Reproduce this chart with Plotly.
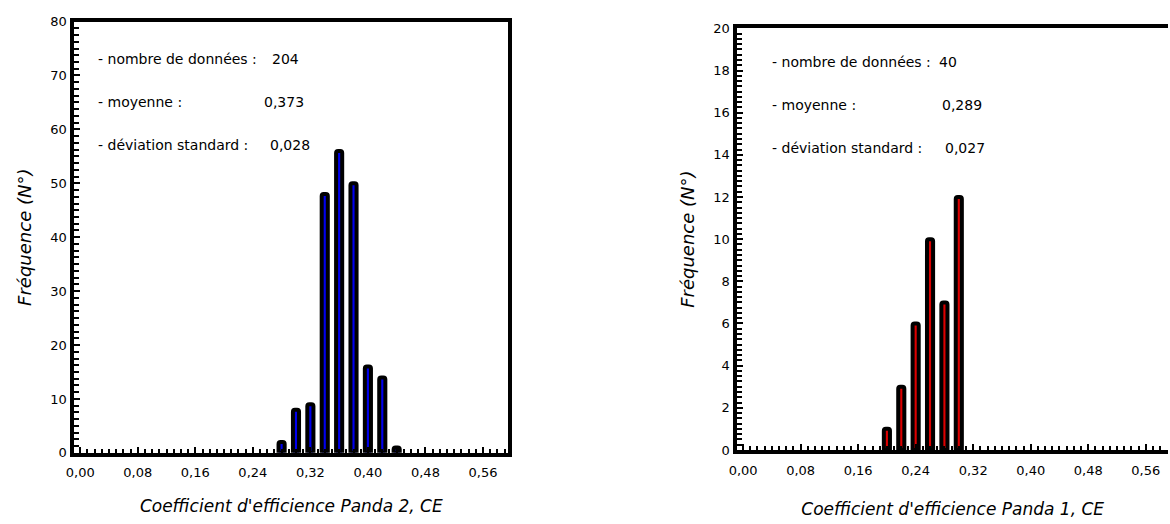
import plotly.graph_objects as go

W, H = 1170, 524

# ---- data ----
# Panda 2 (left panel)
p2_ce = [0.28, 0.30, 0.32, 0.34, 0.36, 0.38, 0.40, 0.42, 0.44]
p2_freq = [2, 8, 9, 48, 56, 50, 16, 14, 1]
# Panda 1 (right panel)
p1_ce = [0.20, 0.22, 0.24, 0.26, 0.28, 0.30]
p1_freq = [1, 3, 6, 10, 7, 12]

x_tick_vals = [0.00, 0.08, 0.16, 0.24, 0.32, 0.40, 0.48, 0.56]
x_tick_text = ["0,00", "0,08", "0,16", "0,24", "0,32", "0,40", "0,48", "0,56"]

stat_labels = ["- nombre de données :", "- moyenne :", "- déviation standard :"]
p2_stats = ["204", "0,373", "0,028"]
p1_stats = ["40", "0,289", "0,027"]

p2_xtitle = "Coefficient d'efficience Panda 2, CE"
p1_xtitle = "Coefficient d'efficience Panda 1, CE"
ytitle = "Fréquence (N°)"

FONT = "DejaVu Sans"

fig = go.Figure()

bar_w = 0.0085
fig.add_trace(go.Bar(
    x=p2_ce, y=p2_freq, width=bar_w, xaxis="x", yaxis="y",
    marker=dict(color="#0000ee", line=dict(color="black", width=4), cornerradius=2),
    showlegend=False, hoverinfo="x+y"))
fig.add_trace(go.Bar(
    x=p1_ce, y=p1_freq, width=bar_w, xaxis="x2", yaxis="y2",
    marker=dict(color="#dd0000", line=dict(color="black", width=4), cornerradius=2),
    showlegend=False, hoverinfo="x+y"))

def xax(domain, title, anchor, standoff, rng):
    return dict(
        domain=domain, range=rng, anchor=anchor,
        tickvals=x_tick_vals, ticktext=x_tick_text,
        ticks="inside", ticklen=6, tickwidth=2, tickcolor="black",
        minor=dict(dtick=0.01, tick0=0, ticks="inside", ticklen=4, tickwidth=1.5, tickcolor="black"),
        showline=True, linewidth=4, linecolor="black", mirror=True,
        showgrid=False, zeroline=False,
        ticklabelstandoff=5,
        tickfont=dict(family=FONT, size=13, color="black"),
        title=dict(text=title, standoff=standoff,
                   font=dict(family=FONT, size=17, color="black", style="italic")),
    )

def yax(domain, rng, dtick, minor, anchor, mirror):
    return dict(
        domain=domain, range=rng, dtick=dtick, tick0=0, anchor=anchor,
        ticks="inside", ticklen=6, tickwidth=2, tickcolor="black",
        minor=dict(dtick=minor, tick0=0, ticks="inside", ticklen=5, tickwidth=2, tickcolor="black"),
        showline=True, linewidth=4, linecolor="black", mirror=mirror,
        showgrid=False, zeroline=False,
        ticklabelstandoff=1,
        tickfont=dict(family=FONT, size=13, color="black"),
        title=dict(text=ytitle, standoff=15,
                   font=dict(family=FONT, size=18, color="black", style="italic")),
    )

annotations = []
def add_stats(x_lab, x_vals, ys, vals):
    for lab, val, y, xv in zip(stat_labels, vals, ys, x_vals):
        annotations.append(dict(x=x_lab / W, y=1 - y / H, xref="paper", yref="paper",
                                text=lab, showarrow=False, xanchor="left", yanchor="middle",
                                font=dict(family=FONT, size=14, color="black")))
        annotations.append(dict(x=xv / W, y=1 - y / H, xref="paper", yref="paper",
                                text=val, showarrow=False, xanchor="left", yanchor="middle",
                                font=dict(family=FONT, size=14, color="black")))

add_stats(88, [263, 255, 261], [54, 98, 142], p2_stats)
add_stats(767, [935, 938, 941], [57, 101, 145], p1_stats)

fig.update_layout(
    width=W, height=H,
    margin=dict(l=0, r=0, t=0, b=0),
    paper_bgcolor="white", plot_bgcolor="white",
    barmode="overlay",
    xaxis=xax([66 / W, 503 / W], p2_xtitle, "y", 22, [-0.008, 0.595]),
    yaxis=yax([1 - 459 / H, 1 - 15 / H], [0, 80], 10, 1.25, "x", True),
    xaxis2=xax([734 / W, 1168 / W], p1_xtitle, "y2", 28, [-0.008, 0.591]),
    yaxis2=yax([1 - 456 / H, 1 - 22 / H], [0, 20], 2, 0.25, "x2", False),
    annotations=annotations,
)

fig.write_html("out.html", config={"displayModeBar": False},
               post_script="document.body.style.margin='0';document.body.style.overflow='hidden';")
